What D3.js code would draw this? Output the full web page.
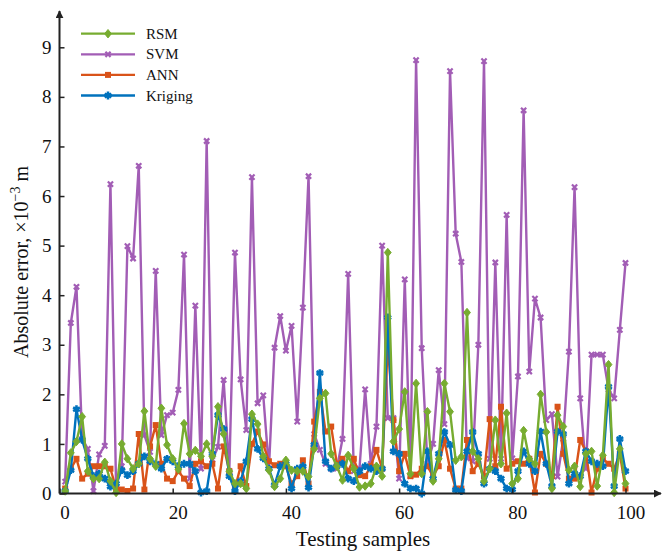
<!DOCTYPE html>
<html>
<head>
<meta charset="utf-8">
<script src="https://cdn.jsdelivr.net/npm/d3@7"></script>
<style>
  html, body { margin: 0; padding: 0; background: #fff; }
  svg { display: block; }
  text { font-family: "Liberation Serif", "Times New Roman", serif; fill: #111; }
</style>
</head>
<body>
<svg id="chart" width="663" height="551"></svg>
<script>
// Absolute prediction error of four surrogate models on the testing samples
const samples = d3.range(1, 101);

const rsm = [0.05,0.82,1.05,1.55,0.45,0.30,0.30,0.63,0.25,0.02,
             1.00,0.70,0.50,0.60,1.66,0.70,0.55,1.72,0.98,0.70,
             0.49,1.41,0.80,0.87,0.75,1.00,0.75,1.75,1.20,0.45,
             0.20,0.20,0.10,1.60,1.40,0.75,0.47,0.14,0.30,0.67,
             0.47,0.45,0.45,0.34,0.90,1.92,2.02,0.80,0.55,0.27,
             0.77,0.50,0.13,0.15,0.20,0.55,0.35,4.86,1.05,1.30,
             2.05,0.40,2.22,0.40,1.65,0.25,0.70,2.22,1.65,0.67,
             0.74,3.65,0.85,0.70,0.25,0.50,1.48,0.60,1.62,0.20,
             0.30,1.27,0.70,0.60,2.00,1.24,0.10,1.58,1.35,0.47,
             0.55,0.14,0.80,0.85,0.15,0.77,2.60,0.02,0.90,0.20];

const svm = [0.24,3.44,4.17,1.10,0.90,0.05,0.79,0.96,6.24,0.12,
             0.55,4.99,4.74,6.61,1.18,0.84,4.49,1.18,1.58,1.63,
             2.09,4.82,0.30,3.79,0.50,7.11,0.68,0.94,2.29,0.45,
             4.86,2.30,1.28,6.38,1.82,1.98,0.50,2.94,3.58,2.88,
             3.38,1.45,3.75,6.40,1.20,0.88,0.60,0.50,0.50,1.10,
             4.43,0.45,0.50,2.10,0.60,1.35,5.00,1.52,1.52,0.30,
             4.32,0.35,8.74,2.93,0.60,1.00,2.49,1.40,8.52,5.24,
             4.67,0.71,0.65,3.00,8.72,0.70,4.66,0.70,5.62,0.71,
             2.36,7.73,2.46,3.93,3.55,1.48,1.60,0.34,1.10,2.86,
             6.18,1.92,0.50,2.80,2.80,2.80,2.10,1.92,3.30,4.65];

const ann = [0.10,0.50,0.70,0.30,0.40,0.55,0.55,0.55,0.50,0.10,
             0.08,0.05,0.10,1.20,0.08,0.95,1.38,0.60,0.30,0.25,
             0.45,0.30,0.15,0.60,0.65,0.55,0.60,0.10,0.95,0.45,
             0.10,0.55,0.15,1.00,1.25,0.99,0.65,0.57,0.60,0.55,
             0.20,0.35,0.67,0.20,1.45,2.05,1.25,1.35,0.60,0.70,
             0.45,0.70,0.37,0.35,0.55,0.88,0.50,3.00,1.48,0.45,
             0.80,0.35,0.38,0.50,0.55,0.35,0.55,1.08,0.50,0.10,
             0.10,1.08,0.45,0.60,0.35,1.50,0.55,1.75,0.50,0.60,
             0.65,0.60,0.70,0.02,0.80,0.60,0.35,1.75,0.80,0.30,
             0.30,1.08,0.85,0.02,0.50,0.70,0.60,0.50,0.80,0.10];

const kriging = [0.05,0.47,1.70,1.08,0.70,0.35,0.40,0.30,0.14,0.20,
                 0.47,0.37,0.45,0.60,0.75,0.65,0.60,0.50,0.70,0.65,
                 0.55,0.60,0.60,0.45,0.02,0.05,0.80,1.58,1.30,0.35,
                 0.05,0.25,0.65,1.50,0.90,0.71,0.50,0.17,0.55,0.60,
                 0.10,0.50,0.55,0.12,0.98,2.43,0.65,0.50,0.55,0.60,
                 0.30,0.25,0.45,0.55,0.50,0.45,0.50,3.55,0.85,0.80,
                 0.20,0.10,0.10,0.00,0.85,0.30,0.80,1.24,0.98,0.07,
                 0.05,0.85,1.24,0.80,0.20,0.50,0.45,0.30,0.10,0.08,
                 0.45,0.85,0.60,0.45,1.25,0.60,0.15,1.25,1.20,0.20,
                 0.40,0.35,0.85,0.65,0.60,0.55,2.15,0.15,1.10,0.45];

const xTicks = [0, 20, 40, 60, 80, 100];
const yTicks = [0, 1, 2, 3, 4, 5, 6, 7, 8, 9];

const series = [
  { name: "RSM",     values: rsm,     color: "#77AC30", marker: "diamond" },
  { name: "SVM",     values: svm,     color: "#A25DB5", marker: "cross" },
  { name: "ANN",     values: ann,     color: "#D95319", marker: "square" },
  { name: "Kriging", values: kriging, color: "#0072BD", marker: "star" }
];
// drawing order (last one on top)
const drawOrder = ["SVM", "ANN", "Kriging", "RSM"];

const svg = d3.select("#chart");
const x = d3.scaleLinear().domain([0, 100]).range([59.5, 625.5]);
const y = d3.scaleLinear().domain([0, 9]).range([493.5, 47.3]);

function drawMarker(g, type, color) {
  if (type === "diamond") {
    g.append("path").attr("d", "M0,-4.2L3.4,0L0,4.2L-3.4,0Z").attr("fill", color).attr("stroke", color).attr("stroke-width", 1);
  } else if (type === "square") {
    g.append("rect").attr("x", -3).attr("y", -3).attr("width", 6).attr("height", 6).attr("fill", color);
  } else if (type === "cross") {
    g.append("path").attr("d", "M-2.6,-2.6L2.6,2.6M-2.6,2.6L2.6,-2.6").attr("stroke", color).attr("stroke-width", 2.2).attr("fill", "none");
  } else if (type === "star") {
    g.append("path").attr("d", d3.symbol(d3.symbolAsterisk, 42)()).attr("stroke", color).attr("stroke-width", 2.6).attr("fill", "none");
    g.append("circle").attr("r", 2.2).attr("fill", color);
  }
}

const plot = svg.append("g");
const line = d3.line().x((d, i) => x(samples[i])).y(d => y(d));

drawOrder.forEach(nm => {
  const s = series.find(t => t.name === nm);
  const g = plot.append("g");
  g.append("path").datum(s.values).attr("d", line)
    .attr("fill", "none").attr("stroke", s.color).attr("stroke-width", 2.4)
    .attr("stroke-linejoin", "round");
  s.values.forEach((v, i) => {
    const m = g.append("g").attr("transform", `translate(${x(samples[i])},${y(v)})`);
    drawMarker(m, s.marker, s.color);
  });
});

// axes
const axisColor = "#222";
const xAxis = svg.append("g").attr("transform", `translate(0,${y(0)})`)
  .call(d3.axisBottom(x).tickValues(xTicks).tickSizeInner(-5).tickSizeOuter(0).tickPadding(12));
const yAxis = svg.append("g").attr("transform", `translate(${x(0)},0)`)
  .call(d3.axisLeft(y).tickValues(yTicks).tickSizeInner(-5).tickSizeOuter(0).tickPadding(8));
[xAxis, yAxis].forEach(a => {
  a.select(".domain").remove();
  a.selectAll(".tick line").attr("stroke", axisColor).attr("stroke-width", 1.5);
  a.selectAll(".tick text").style("font-family", "Liberation Serif, serif").style("font-size", "19px").attr("fill", "#111");
});
xAxis.selectAll(".tick text").attr("dx", 5);

// axis lines with arrowheads
svg.append("defs").append("marker").attr("id", "arrow")
  .attr("viewBox", "0 0 10 10").attr("refX", 9).attr("refY", 5)
  .attr("markerWidth", 4).attr("markerHeight", 4).attr("orient", "auto")
  .append("path").attr("d", "M0,0L10,5L0,10Z").attr("fill", axisColor);
svg.append("line").attr("x1", x(0)).attr("y1", y(0)).attr("x2", 661).attr("y2", y(0))
  .attr("stroke", axisColor).attr("stroke-width", 2).attr("marker-end", "url(#arrow)");
svg.append("line").attr("x1", x(0)).attr("y1", y(0)).attr("x2", x(0)).attr("y2", 11)
  .attr("stroke", axisColor).attr("stroke-width", 2).attr("marker-end", "url(#arrow)");

// axis titles
svg.append("text").attr("x", 363).attr("y", 546).attr("text-anchor", "middle")
  .style("font-size", "21px").text("Testing samples");
const yt = svg.append("text").attr("transform", "translate(28,262) rotate(-90)")
  .attr("text-anchor", "middle").style("font-size", "20px");
yt.append("tspan").text("Absolute error, ×10");
yt.append("tspan").attr("dy", -8).style("font-size", "14px").text("−3");
yt.append("tspan").attr("dy", 8).text(" m");

// legend
const legend = svg.append("g");
series.forEach((s, i) => {
  const ly = 33.7 + i * 20.6;
  const g = legend.append("g");
  g.append("line").attr("x1", 81).attr("x2", 135).attr("y1", ly).attr("y2", ly)
    .attr("stroke", s.color).attr("stroke-width", 2.3);
  const m = g.append("g").attr("transform", `translate(108,${ly})`);
  drawMarker(m, s.marker, s.color);
  g.append("text").attr("x", 146).attr("y", ly + 5).style("font-size", "15px").text(s.name);
});
</script>
</body>
</html>
